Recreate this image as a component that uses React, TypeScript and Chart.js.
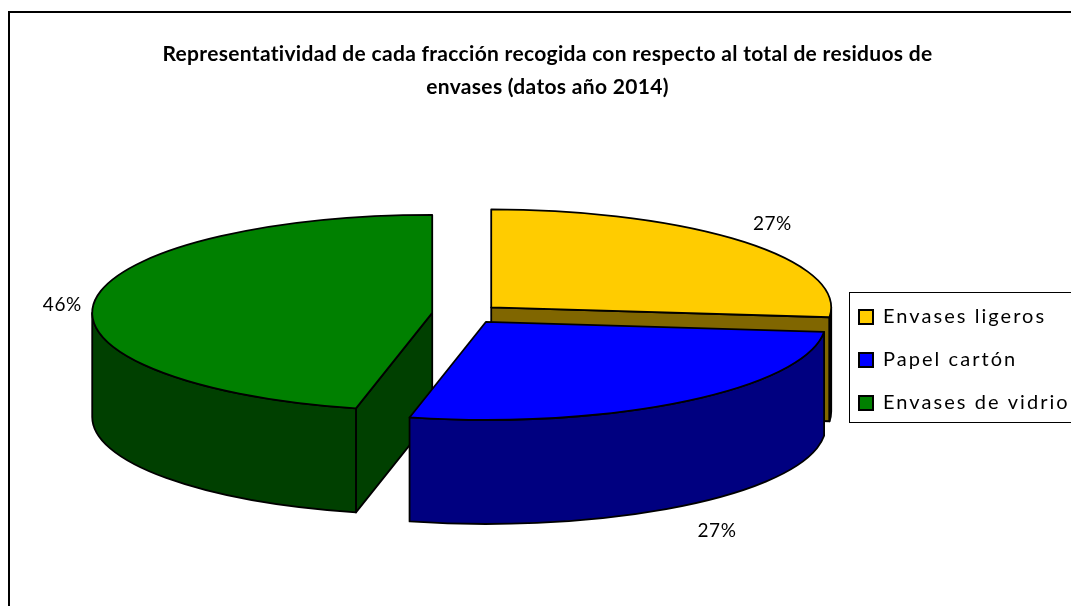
import React, { useEffect, useRef } from "react";
import { Chart, registerables } from "chart.js";

Chart.register(...registerables);

const titleLines = [
  "Representatividad de cada fracción recogida con respecto al total de residuos de",
  "envases (datos año 2014)",
];
const categories = ["Envases ligeros", "Papel cartón", "Envases de vidrio"];
const shares = [26.6, 27.0, 46.4];
const topColors = ["#FFCC00", "#0000FF", "#008000"];
const sideColors = ["#806600", "#000080", "#004000"];

// 3D projection of the pie
const CENTER_X = 466;
const CENTER_Y = 314;
const RADIUS = 340;
const SQUASH = 98 / 340;
const DEPTH = 104;
const EXPLODE = 34;
const labelNudge = [
  [29, -18],
  [33, 25],
  [-32, 3],
];

const pie3d = {
  id: "pie3d",
  beforeDraw(chart: any) {
    const { ctx } = chart;
    ctx.save();
    ctx.fillStyle = "#fff";
    ctx.fillRect(0, 0, chart.width, chart.height);
    ctx.strokeStyle = "#000";
    ctx.lineWidth = 2;
    ctx.strokeRect(9, 12, chart.width + 50, chart.height + 50);
    ctx.lineWidth = 1;
    ctx.strokeRect(849.5, 292.5, 240, 130);
    ctx.restore();
  },
  beforeLayout(chart: any) {
    const lg = chart.legend;
    if (!lg.__spaced) {
      const draw = lg.draw;
      lg.draw = function (...args: any[]) {
        chart.ctx.letterSpacing = "2.05px";
        draw.apply(lg, args);
        chart.ctx.letterSpacing = "0px";
      };
      const tb = chart.titleBlock;
      const tdraw = tb.draw;
      tb.draw = function (...args: any[]) {
        chart.ctx.letterSpacing = "0.31px";
        tdraw.apply(tb, args);
        chart.ctx.letterSpacing = "0px";
      };
      lg.__spaced = true;
    }
  },
  afterLayout(chart: any) {
    const lg = chart.legend;
    lg.left = 836;
    lg.right = 1300;
    lg.top = 284;
    lg.bottom = 600;
    const t = chart.titleBlock;
    t.left = 24;
    t.right = 1071;
  },
  beforeDatasetDraw(chart: any, args: any) {
    const { ctx } = chart;
    const arcs = args.meta.data as any[];
    const centers = arcs.map((a) => {
      const mid = (a.startAngle + a.endAngle) / 2;
      return {
        x: CENTER_X + EXPLODE * Math.cos(mid),
        y: CENTER_Y + EXPLODE * Math.sin(mid) * SQUASH,
        mid,
      };
    });
    const ry = RADIUS * SQUASH;
    const order = arcs
      .map((_, i) => i)
      .sort((p, q) => Math.sin(centers[p].mid) - Math.sin(centers[q].mid));

    ctx.save();
    ctx.lineWidth = 1.8;
    ctx.lineJoin = "round";
    ctx.strokeStyle = "#000";
    for (const i of order) {
      const a = arcs[i];
      const c = centers[i];
      ctx.fillStyle = sideColors[i];
      const wall = (e: number) => {
        const ex = c.x + RADIUS * Math.cos(e);
        const ey = c.y + ry * Math.sin(e);
        ctx.beginPath();
        ctx.moveTo(c.x, c.y);
        ctx.lineTo(ex, ey);
        ctx.lineTo(ex, ey + DEPTH);
        ctx.lineTo(c.x, c.y + DEPTH);
        ctx.closePath();
        ctx.fill();
        ctx.stroke();
      };
      if (Math.cos(a.startAngle) < -1e-6) wall(a.startAngle);
      if (Math.cos(a.endAngle) > 1e-6) wall(a.endAngle);
      const from = Math.max(a.startAngle, 0);
      const to = Math.min(a.endAngle, Math.PI);
      if (to > from) {
        ctx.beginPath();
        ctx.ellipse(c.x, c.y, RADIUS, ry, 0, from, to);
        ctx.ellipse(c.x, c.y + DEPTH, RADIUS, ry, 0, to, from, true);
        ctx.closePath();
        ctx.fill();
        ctx.stroke();
      }
    }
    arcs.forEach((a, i) => {
      const c = centers[i];
      ctx.save();
      ctx.translate(c.x, c.y);
      ctx.scale(1, SQUASH);
      ctx.translate(-a.x, -a.y);
      a.draw(ctx);
      ctx.restore();
      ctx.beginPath();
      ctx.moveTo(c.x, c.y);
      ctx.ellipse(c.x, c.y, RADIUS, ry, 0, a.startAngle, a.endAngle);
      ctx.closePath();
      ctx.stroke();
    });
    const total = shares.reduce((s, v) => s + v, 0);
    ctx.fillStyle = "#000";
    ctx.font = "19px Lato";
    ctx.letterSpacing = "0.6px";
    ctx.textAlign = "center";
    ctx.textBaseline = "middle";
    arcs.forEach((a, i) => {
      const c = centers[i];
      const lift = Math.sin(c.mid) > 0.3 ? DEPTH : 0;
      const lx = c.x + RADIUS * Math.cos(c.mid) + labelNudge[i][0];
      const ly = c.y + ry * Math.sin(c.mid) + lift + labelNudge[i][1];
      ctx.fillText(`${Math.round((shares[i] / total) * 100)}%`, lx, ly);
    });
    ctx.restore();
    return false;
  },
};

export default function App() {
  const ref = useRef<HTMLCanvasElement>(null);
  useEffect(() => {
    const chart = new Chart(ref.current!, {
      type: "pie",
      data: {
        labels: categories,
        datasets: [
          {
            data: shares,
            backgroundColor: topColors,
            borderWidth: 0,
            radius: RADIUS,
          } as any,
        ],
      },
      options: {
        responsive: false,
        animation: false,
        events: [],
        plugins: {
          tooltip: { enabled: false },
          title: {
            display: true,
            text: titleLines,
            color: "#000",
            font: { family: "Lato", size: 21, weight: "bold", lineHeight: 33 / 21 },
            padding: { top: 37.5, bottom: 0 },
          },
          legend: {
            position: "right",
            align: "start",
            labels: {
              boxWidth: 14,
              boxHeight: 14,
              padding: 23,
              color: "#000",
              font: { family: "Lato", size: 20 },
              generateLabels: (c: any) =>
                c.data.labels.map((text: string, i: number) => ({
                  text,
                  fillStyle: topColors[i],
                  strokeStyle: "#000",
                  lineWidth: 2,
                  hidden: false,
                  index: i,
                })),
            },
          },
        },
      } as any,
      plugins: [pie3d as any],
    });
    return () => chart.destroy();
  }, []);
  return (
    <canvas
      ref={ref}
      width={1071}
      height={606}
      style={{ position: "absolute", left: 0, top: 0, width: 1071, height: 606 }}
    />
  );
}
